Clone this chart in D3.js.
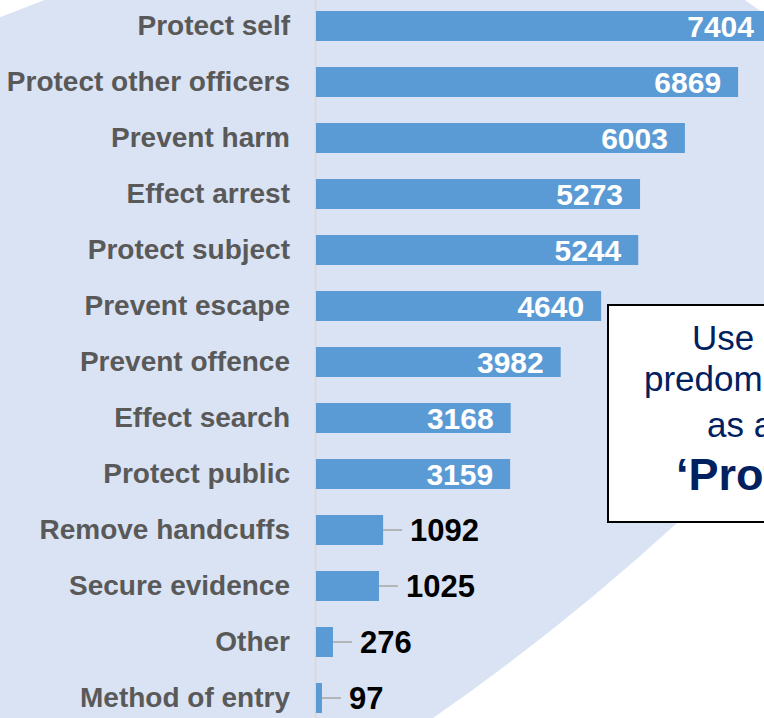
<!DOCTYPE html>
<html>
<head>
<meta charset="utf-8">
<script src="https://cdn.jsdelivr.net/npm/d3@7"></script>
<style>
  body { margin: 0; background: #fff; }
  svg { display: block; font-family: "Liberation Sans", Arial, sans-serif; }
</style>
</head>
<body>
<svg id="chart"></svg>
<script>
const categories = [
    "Protect self", "Protect other officers", "Prevent harm", "Effect arrest",
    "Protect subject", "Prevent escape", "Prevent offence", "Effect search",
    "Protect public", "Remove handcuffs", "Secure evidence", "Other", "Method of entry"
];
const counts = [7404, 6869, 6003, 5273, 5244, 4640, 3982, 3168, 3159, 1092, 1025, 276, 97];

const noteLines = ["Use of force", "predominantly", "as a means to", "\u2018Protect self\u2019"];

const width = 764;
const height = 718;

const data = categories.map((c, i) => ({ category: c, value: counts[i] }));

const svg = d3.select("#chart")
    .attr("width", width)
    .attr("height", height)
    .attr("viewBox", [0, 0, width, height]);

// pale backdrop shape behind the chart
svg.append("path")
    .attr("fill", "#dae3f3")
    .attr("d", "M-20,25 L60,-6 L730,-10 L790,31 C850,120 850,330 677,523 Q560,630 433,718 L373,760 L-20,760 Z");

const x = d3.scaleLinear()
    .domain([0, 7404])
    .range([316, 771]);

const y = d3.scaleBand()
    .domain(categories)
    .range([-15, 739])
    .padding(26 / 56);

const axis = svg.append("g")
    .attr("transform", "translate(315,0)")
    .call(d3.axisLeft(y).tickSize(0).tickPadding(25));

axis.select(".domain")
    .attr("stroke", "#d9d9d9")
    .attr("stroke-width", 2);

axis.selectAll("text")
    .attr("font-family", "'Liberation Sans', Arial, sans-serif")
    .attr("font-size", 28)
    .attr("font-weight", "bold")
    .attr("fill", "#595959");

const bars = svg.append("g")
    .selectAll("g")
    .data(data)
    .join("g");

bars.append("rect")
    .attr("x", x(0))
    .attr("y", d => y(d.category))
    .attr("width", d => x(d.value) - x(0))
    .attr("height", y.bandwidth())
    .attr("fill", "#5b9bd5");

const inside = d => d.value >= 3000;

bars.filter(d => !inside(d))
    .append("line")
    .attr("x1", d => x(d.value))
    .attr("x2", d => x(d.value) + 19)
    .attr("y1", d => y(d.category) + y.bandwidth() / 2)
    .attr("y2", d => y(d.category) + y.bandwidth() / 2)
    .attr("stroke", "#a6a6a6")
    .attr("stroke-width", 1.5);

bars.append("text")
    .attr("x", d => inside(d) ? x(d.value) - 17 : x(d.value) + 27)
    .attr("y", d => y(d.category) + y.bandwidth() / 2)
    .attr("dy", "0.36em")
    .attr("text-anchor", d => inside(d) ? "end" : "start")
    .attr("font-size", d => inside(d) ? 30 : 31)
    .attr("font-weight", "bold")
    .attr("fill", d => inside(d) ? "#ffffff" : "#000000")
    .text(d => d.value);

// callout box
const note = svg.append("g");

note.append("rect")
    .attr("x", 608)
    .attr("y", 305)
    .attr("width", 300)
    .attr("height", 217)
    .attr("fill", "#ffffff")
    .attr("stroke", "#000000")
    .attr("stroke-width", 2);

const noteX = [692, 644, 707, 676];
const noteY = [350, 391, 437, 490];

note.selectAll("text")
    .data(noteLines)
    .join("text")
    .attr("x", (d, i) => noteX[i])
    .attr("y", (d, i) => noteY[i])
    .attr("font-size", (d, i) => i === noteLines.length - 1 ? 45 : 35)
    .attr("font-weight", (d, i) => i === noteLines.length - 1 ? "bold" : "normal")
    .attr("fill", "#002060")
    .text(d => d);
</script>
</body>
</html>
